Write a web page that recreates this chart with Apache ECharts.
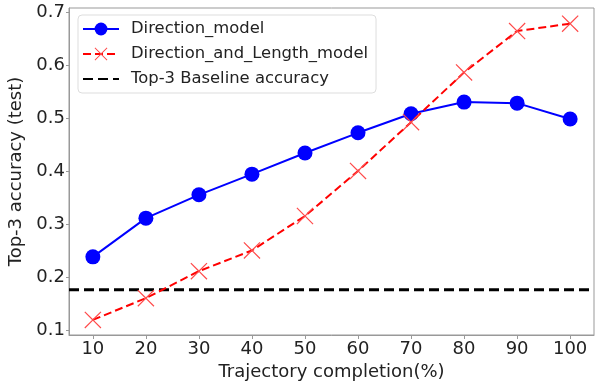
<!DOCTYPE html>
<html>
<head>
<meta charset="utf-8">
<script src="https://cdn.jsdelivr.net/npm/echarts@6/dist/echarts.min.js"></script>
<style>
  html, body { margin: 0; padding: 0; background: #fff; }
  #chart { width: 599px; height: 381px; }
</style>
</head>
<body>
<div id="chart"></div>
<script>
// 轨迹完成度 (%)
const completion = [10, 20, 30, 40, 50, 60, 70, 80, 90, 100];
const directionModel = [0.238, 0.311, 0.355, 0.394, 0.434, 0.472, 0.508, 0.530, 0.528, 0.498];
const directionLengthModel = [0.119, 0.160, 0.211, 0.250, 0.315, 0.400, 0.492, 0.586, 0.664, 0.678];
const baselineAccuracy = 0.176;
const yTicks = [0.1, 0.2, 0.3, 0.4, 0.5, 0.6, 0.7];

const font = 'DejaVu Sans';
const pair = (xs, ys) => xs.map((x, i) => [x, ys[i]]);
// 细线 x 形标记（填充多边形）
const crossMark = 'path://M0,1L1,0L10,9L19,0L20,1L11,10L20,19L19,20L10,11L1,20L0,19L9,10Z';

const chart = echarts.init(document.getElementById('chart'));
chart.setOption({
    animation: false,
    textStyle: { fontFamily: font },
    grid: {
        left: 69, top: 8, right: 5, bottom: 46,
        outerBoundsMode: 'none',
        show: true, borderColor: '#999', borderWidth: 1
    },
    legend: {
        orient: 'vertical',
        left: 78,
        top: 15,
        padding: [6, 8, 6, 4],
        itemGap: 9,
        itemWidth: 36,
        itemHeight: 16,
        borderColor: '#ddd',
        borderWidth: 1,
        borderRadius: 4,
        backgroundColor: '#fff',
        textStyle: { fontSize: 16.4, lineHeight: 16, color: '#222', fontFamily: font, padding: [0, 0, 0, 7] },
        data: ['Direction_model', 'Direction_and_Length_model', 'Top-3 Baseline accuracy']
    },
    xAxis: {
        type: 'value',
        min: 5.5,
        max: 104.5,
        name: 'Trajectory completion(%)',
        nameLocation: 'middle',
        nameGap: 24,
        nameTextStyle: { fontSize: 18, color: '#222' },
        splitLine: { show: false },
        axisLine: { lineStyle: { color: '#999' } },
        axisTick: { customValues: completion, length: 4, lineStyle: { color: '#999' } },
        axisLabel: { customValues: completion, fontSize: 18, color: '#222', margin: 5 }
    },
    yAxis: {
        type: 'value',
        min: 0.0905,
        max: 0.7075,
        name: 'Top-3 accuracy (test)',
        nameLocation: 'middle',
        nameGap: 34,
        nameTextStyle: { fontSize: 18, color: '#222' },
        splitLine: { show: false },
        axisLine: { show: true, lineStyle: { color: '#999' } },
        axisTick: { show: true, customValues: yTicks, length: 3, lineStyle: { color: '#999' } },
        axisLabel: { customValues: yTicks, fontSize: 18, color: '#222', margin: 4 }
    },
    series: [
        {
            name: 'Direction_model',
            type: 'line',
            data: pair(completion, directionModel),
            symbol: 'circle',
            symbolSize: 15,
            itemStyle: { color: '#0000ff' },
            lineStyle: { color: '#0000ff', width: 2 },
            z: 3
        },
        {
            name: 'Direction_and_Length_model',
            type: 'line',
            data: pair(completion, directionLengthModel),
            symbol: crossMark,
            symbolSize: 17,
            itemStyle: { color: '#ff4a4a', borderWidth: 0 },
            lineStyle: { color: '#ff0000', width: 2, type: [8, 4] },
            z: 4
        },
        {
            name: 'Top-3 Baseline accuracy',
            type: 'line',
            data: [[5.5, baselineAccuracy], [104.5, baselineAccuracy]],
            showSymbol: false,
            symbol: 'rect',
            itemStyle: { color: 'rgba(0,0,0,0)', borderWidth: 0 },
            lineStyle: { color: '#000', width: 3, type: [10, 5] },
            z: 2
        }
    ]
});
</script>
</body>
</html>
